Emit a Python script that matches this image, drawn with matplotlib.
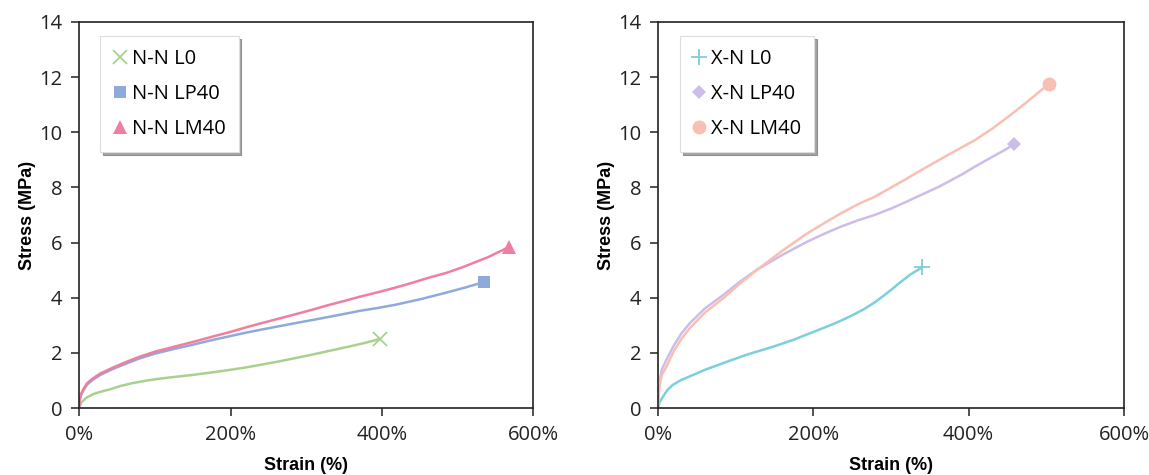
import matplotlib
matplotlib.use("Agg")
import matplotlib.pyplot as plt
from matplotlib.ticker import FuncFormatter

# left panel: N-N samples (strain %, stress MPa)
nn_l0_x = [0, 3, 10, 20, 30, 41, 55, 70, 90, 108, 130, 150, 175, 196, 220, 240, 262, 284, 305, 320, 335, 350, 365, 380, 397]
nn_l0_y = [0, 0.2, 0.38, 0.52, 0.6, 0.68, 0.8, 0.9, 1.0, 1.07, 1.14, 1.2, 1.29, 1.37, 1.47, 1.57, 1.68, 1.8, 1.92, 2.01, 2.1, 2.19, 2.28, 2.38, 2.50]
nn_lp40_x = [0, 1, 3, 6, 10.6, 18, 28, 45, 64, 80, 100, 125, 151, 175, 200, 220, 240, 265, 290, 310, 329, 350, 370, 395, 417, 450, 483, 510, 535]
nn_lp40_y = [0, 0.3, 0.5, 0.65, 0.85, 1.02, 1.20, 1.42, 1.63, 1.8, 1.97, 2.14, 2.3, 2.46, 2.61, 2.73, 2.84, 2.97, 3.1, 3.2, 3.3, 3.41, 3.52, 3.63, 3.74, 3.94, 4.17, 4.37, 4.57]
nn_lm40_x = [0, 1, 3, 6, 10.6, 18, 28, 45, 64, 80, 100, 125, 151, 175, 200, 220, 240, 265, 290, 310, 329, 350, 370, 395, 417, 440, 460, 485, 506, 540, 568]
nn_lm40_y = [0, 0.32, 0.53, 0.7, 0.9, 1.07, 1.25, 1.47, 1.69, 1.86, 2.04, 2.22, 2.4, 2.58, 2.76, 2.92, 3.07, 3.25, 3.43, 3.58, 3.73, 3.88, 4.03, 4.2, 4.36, 4.54, 4.71, 4.9, 5.1, 5.47, 5.84]

# right panel: X-N samples
xn_l0_x = [0, 2, 6.5, 12, 19, 30, 41, 60, 84, 115, 149, 175, 201, 220, 235, 250, 265, 279, 290, 300, 313, 325, 340]
xn_l0_y = [0, 0.2, 0.42, 0.65, 0.84, 1.02, 1.15, 1.38, 1.63, 1.94, 2.23, 2.48, 2.77, 2.98, 3.16, 3.36, 3.58, 3.83, 4.06, 4.28, 4.58, 4.84, 5.10]
xn_lp40_x = [0, 0.8, 2.2, 5, 10.8, 20, 30, 41, 60, 84, 105, 127, 160, 192, 215, 235, 257, 279, 300, 320, 343, 360, 375, 392, 408, 425, 445, 459]
xn_lp40_y = [0, 0.55, 1.03, 1.4, 1.75, 2.25, 2.7, 3.08, 3.6, 4.10, 4.57, 5.01, 5.55, 6.03, 6.33, 6.57, 6.8, 7.0, 7.23, 7.48, 7.78, 8.0, 8.22, 8.48, 8.75, 9.02, 9.33, 9.57]
xn_lm40_x = [0, 0.8, 2.2, 5, 10.8, 20, 30, 41, 60, 84, 105, 127, 160, 192, 215, 235, 257, 279, 310, 343, 375, 408, 430, 451, 470, 490, 504]
xn_lm40_y = [0, 0.45, 0.85, 1.2, 1.5, 2.05, 2.5, 2.9, 3.45, 3.98, 4.5, 5.0, 5.7, 6.33, 6.72, 7.05, 7.38, 7.66, 8.15, 8.69, 9.2, 9.71, 10.12, 10.56, 10.98, 11.44, 11.76]

left_series = [
    (nn_l0_x, nn_l0_y, "N-N L0", "#a9d18e", "x", 10),
    (nn_lp40_x, nn_lp40_y, "N-N LP40", "#8eaadb", "s", 8.5),
    (nn_lm40_x, nn_lm40_y, "N-N LM40", "#f07ea0", "^", 10),
]
right_series = [
    (xn_l0_x, xn_l0_y, "X-N L0", "#7ccfdc", "+", 12),
    (xn_lp40_x, xn_lp40_y, "X-N LP40", "#cdbde9", "D", 7.5),
    (xn_lm40_x, xn_lm40_y, "X-N LM40", "#f9bfb2", "o", 10),
]

fig = plt.figure(figsize=(11.49, 4.75), dpi=100)
ax1 = fig.add_axes([0.0688, 0.141, 0.3955, 0.813])
ax2 = fig.add_axes([0.5727, 0.141, 0.4055, 0.813])

tick_font = "Open Sans"
label_font = "Liberation Sans"

for ax, series in [(ax1, left_series), (ax2, right_series)]:
    handles = []
    for xs, ys, name, col, mk, ms in series:
        ax.plot(xs, ys, color=col, lw=1.8, solid_capstyle="round", solid_joinstyle="round")
        h, = ax.plot(xs[-1], ys[-1], linestyle="none", marker=mk, color=col,
                     markersize=ms, markeredgewidth=1.3 if mk in "x+" else 0,
                     label=name, clip_on=False)
        handles.append(h)
    ax.set_xlim(0, 600)
    ax.set_ylim(0, 14)
    ax.set_xticks([0, 200, 400, 600])
    ax.set_yticks(range(0, 15, 2))
    ax.xaxis.set_major_formatter(FuncFormatter(lambda v, p: "%d%%" % v))
    ax.tick_params(direction="out", length=6, width=1.1, labelsize=14.5, colors="#222222", pad=6)
    for lab in ax.get_xticklabels() + ax.get_yticklabels():
        lab.set_family(tick_font)
    for sp in ax.spines.values():
        sp.set_linewidth(1.2)
        sp.set_color("#222222")
    ax.set_xlabel("Strain (%)", fontsize=13, fontweight="bold", family=label_font, labelpad=9)
    ax.set_ylabel("Stress (MPa)", fontsize=13, fontweight="bold", family=label_font, labelpad=2)
    leg = ax.legend(handles=handles, loc="upper left", bbox_to_anchor=(0.025, 0.99),
                    frameon=True, shadow=True, fancybox=False, handlelength=0.6,
                    handletextpad=0.3, labelspacing=0.75, borderpad=0.65,
                    prop={"family": tick_font, "size": 14.5})
    leg.get_frame().set_edgecolor("#dddddd")
    leg.get_frame().set_linewidth(0.8)

fig.savefig("out.png", dpi=100)
